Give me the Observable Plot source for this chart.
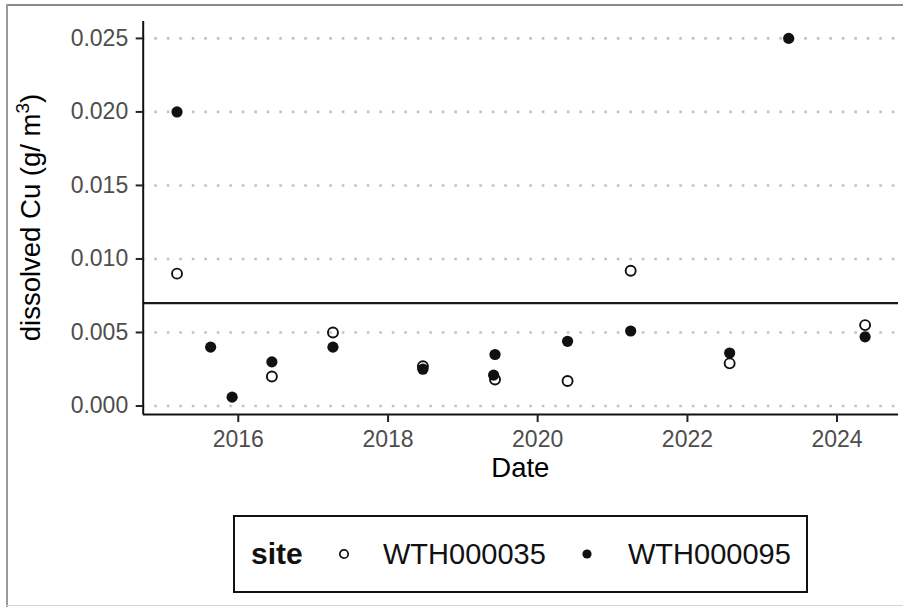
<!DOCTYPE html>
<html>
<head>
<meta charset="utf-8">
<script src="https://cdn.jsdelivr.net/npm/d3@7"></script>
<script src="https://cdn.jsdelivr.net/npm/@observablehq/plot@0.6"></script>
<style>
  html, body { margin: 0; padding: 0; background: #fff; }
  #wrap { position: relative; width: 903px; height: 607px; overflow: hidden; background: #fff;
          font-family: "Liberation Sans", Arial, Helvetica, sans-serif; }
  #frameTop { position: absolute; left: 6px; top: 4px; width: 897px; height: 2px; background: #8a8a8a; }
  #frameLeft { position: absolute; left: 6px; top: 4px; width: 2px; height: 603px; background: #9a9a9a; }
  #frameBottom { position: absolute; left: 6px; top: 605px; width: 897px; height: 1px; background: #d4d4d4; }
  #chart { position: absolute; left: 0; top: 0; }
  #legend { position: absolute; left: 233px; top: 515px; width: 575px; height: 78px; box-sizing: border-box;
            border: 2px solid #111; background: #fff; }
  #legend .item { position: absolute; top: 0; height: 74px; line-height: 74px; white-space: nowrap; color: #111; }
  #legend .title { font-weight: bold; font-size: 30px; }
  #legend .lab { font-size: 29px; }
  #legend svg { position: absolute; top: 28px; }
</style>
</head>
<body>
<div id="wrap">
  <div id="chart"></div>
  <div id="legend"></div>
  <div id="frameTop"></div>
  <div id="frameLeft"></div>
  <div id="frameBottom"></div>
</div>
<script>
// ---- data ----
const siteNames = ["WTH000035", "WTH000095"];
const site35Dates  = ["2015-03-08", "2016-06-13", "2017-04-07", "2018-06-20", "2019-06-07", "2020-05-26", "2021-03-30", "2022-07-26", "2024-05-17"];
const site35Values = [0.0090, 0.0020, 0.0050, 0.0027, 0.0018, 0.0017, 0.0092, 0.0029, 0.0055];
const site95Dates  = ["2015-03-08", "2015-08-19", "2015-12-02", "2016-06-13", "2017-04-07", "2018-06-20", "2019-06-07", "2019-05-31", "2020-05-26", "2021-03-30", "2022-07-26", "2023-05-10", "2024-05-17"];
const site95Values = [0.0200, 0.0040, 0.0006, 0.0030, 0.0040, 0.0025, 0.0035, 0.0021, 0.0044, 0.0051, 0.0036, 0.0250, 0.0047];
const guideline = 0.007;
const yTicks = [0, 0.005, 0.010, 0.015, 0.020, 0.025];
const xTickYears = [2016, 2018, 2020, 2022, 2024];
const xDomain = ["2014-09-24", "2024-10-27"];
const yDomain = [-0.00058, 0.02615];

const toRows = (dates, values, site) => dates.map((d, i) => ({date: new Date(d + "T00:00:00Z"), value: values[i], site}));
const rows35 = toRows(site35Dates, site35Values, siteNames[0]);
const rows95 = toRows(site95Dates, site95Values, siteNames[1]);
const xTicks = xTickYears.map(y => new Date(Date.UTC(y, 0, 1)));
const xDom = xDomain.map(d => new Date(d + "T00:00:00Z"));

const W = 903, H = 505, mL = 142.7, mR = 5, mT = 21, mB = 91;

const plot = Plot.plot({
  width: W, height: H,
  marginLeft: mL, marginRight: mR, marginTop: mT, marginBottom: mB,
  style: {fontFamily: '"Liberation Sans", Arial, Helvetica, sans-serif', fontSize: "23px", background: "transparent", color: "#4d4d4d", overflow: "visible"},
  x: {type: "utc", domain: xDom},
  y: {domain: yDomain},
  marks: [
    Plot.ruleY(yTicks, {stroke: "#c2c2c2", strokeWidth: 2.6, strokeDasharray: "2.6,9.9", strokeDashoffset: 0.9, strokeLinecap: "butt"}),
    Plot.ruleY([guideline], {stroke: "#1a1a1a", strokeWidth: 2.2}),
    Plot.dot(rows35, {x: "date", y: "value", r: 5, stroke: "#111", strokeWidth: 1.9, fill: "none"}),
    Plot.dot(rows95, {x: "date", y: "value", r: 5.6, fill: "#111", stroke: "none"}),
    Plot.ruleX([xDom[0]], {stroke: "#111", strokeWidth: 2}),
    Plot.ruleY([yDomain[0]], {stroke: "#111", strokeWidth: 2}),
    Plot.axisY({ticks: yTicks, tickFormat: d3.format(".3f"), tickSize: 7, tickPadding: 8, stroke: "#222", strokeWidth: 2, label: null, fill: "#4d4d4d"}),
    Plot.axisX({ticks: xTicks, tickFormat: d3.utcFormat("%Y"), tickSize: 8, tickPadding: 8, stroke: "#222", strokeWidth: 2, label: null, fill: "#4d4d4d"})
  ]
});
document.getElementById("chart").appendChild(plot);

// axis titles as real text
const svg = d3.select(plot);
svg.append("text")
  .attr("x", (mL + (W - mR)) / 2).attr("y", 477)
  .attr("text-anchor", "middle")
  .attr("font-size", "27.5px").attr("fill", "#000")
  .text("Date");
const yt = svg.append("text")
  .attr("transform", `translate(40, ${(mT + (H - mB)) / 2}) rotate(-90)`)
  .attr("text-anchor", "middle")
  .attr("font-size", "27.5px").attr("fill", "#000");
yt.append("tspan").text("dissolved Cu (g/ m");
yt.append("tspan").attr("font-size", "19px").attr("dy", "-11").text("3");
yt.append("tspan").attr("dy", "11").text(")");

// legend
const leg = d3.select("#legend");
leg.append("div").attr("class", "item title").style("left", "16px").text("site");
const s1 = leg.append("svg").attr("width", 18).attr("height", 18).style("left", (108.7 - 9) + "px");
s1.append("circle").attr("cx", 9).attr("cy", 9).attr("r", 4.2).attr("fill", "none").attr("stroke", "#111").attr("stroke-width", 1.7);
leg.append("div").attr("class", "item lab").style("left", "148px").text(siteNames[0]);
const s2 = leg.append("svg").attr("width", 18).attr("height", 18).style("left", (352 - 9) + "px");
s2.append("circle").attr("cx", 9).attr("cy", 9).attr("r", 4.6).attr("fill", "#111");
leg.append("div").attr("class", "item lab").style("left", "393px").text(siteNames[1]);
</script>
</body>
</html>
